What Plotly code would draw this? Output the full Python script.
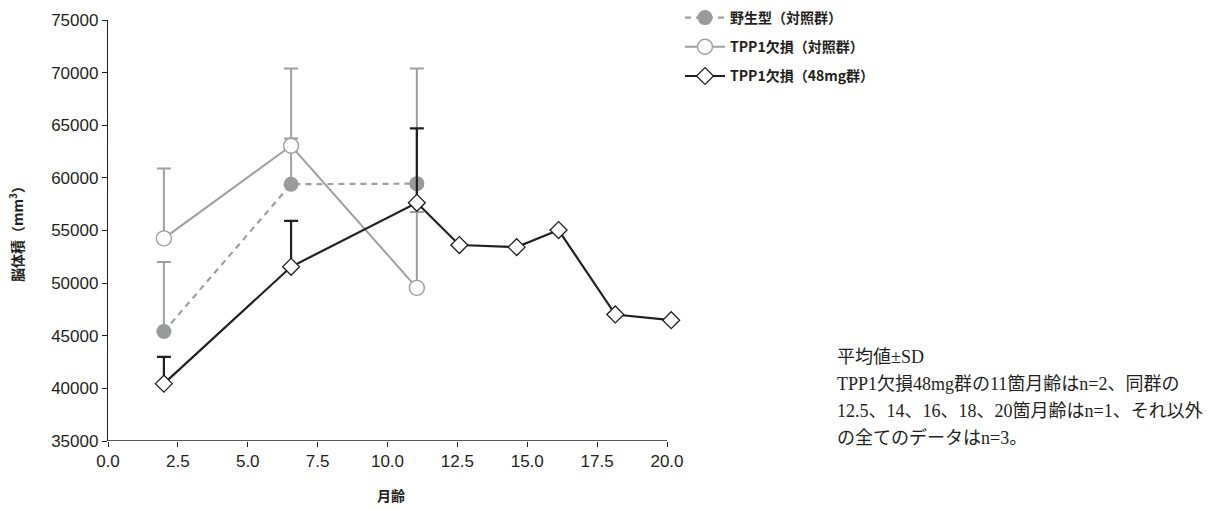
import plotly.graph_objects as go

# ---- data ----
age_wt = [2.0, 6.55, 11.05]
vol_wt = [45400, 59400, 59450]
sd_wt_up = [6600, 4350, 0]
sd_wt_down = [0, 0, 2700]

age_ctl = [2.0, 6.55, 11.05]
vol_ctl = [54250, 63050, 49550]
sd_ctl_up = [6650, 7350, 20850]

age_48 = [2.0, 6.55, 11.05, 12.57, 14.62, 16.12, 18.15, 20.15]
vol_48 = [40450, 51550, 57630, 53620, 53420, 55040, 47020, 46480]
sd_48_up = [2550, 4370, 7070, 0, 0, 0, 0, 0]

names = ["野生型（対照群）", "TPP1欠損（対照群）", "TPP1欠損（48mg群）"]
x_ticks = [0, 2.5, 5, 7.5, 10, 12.5, 15, 17.5, 20]
y_ticks = [35000, 40000, 45000, 50000, 55000, 60000, 65000, 70000, 75000]
note_lines = [
    "平均値±SD",
    "TPP1欠損48mg群の11箇月齢はn=2、同群の",
    "12.5、14、16、18、20箇月齢はn=1、それ以外",
    "の全てのデータはn=3。",
]

# ---- layout constants ----
W, H = 1222, 510
X_MAX = 20.25
PX_PER_X = 27.96
L, T, B = 108, 20, 69
plot_w = round(X_MAX * PX_PER_X)
R = W - L - plot_w
plot_h = H - T - B

DARK = "#231f20"
GRAY = "#9fa0a2"
GRAY_FILL = "#999a9c"
SANS = "Liberation Sans, Arial, Noto Sans CJK JP, sans-serif"
CJK = "Noto Sans CJK JP, Liberation Sans, sans-serif"
SERIF = "Liberation Serif, Noto Sans CJK JP, serif"

fig = go.Figure()

fig.add_trace(go.Scatter(
    x=age_wt, y=vol_wt, name="<b>" + names[0] + "</b>", mode="lines+markers",
    legendgroup="a",
    line=dict(color=GRAY, width=2.2, dash="6px,5px"),
    marker=dict(symbol="circle", size=15, color=GRAY_FILL, line=dict(width=0)),
    error_y=dict(type="data", symmetric=False, array=sd_wt_up, arrayminus=sd_wt_down,
                 color=GRAY, thickness=2, width=7),
    cliponaxis=False,
))
fig.add_trace(go.Scatter(
    x=age_ctl, y=vol_ctl, name="<b>" + names[1] + "</b>", mode="lines+markers",
    legendgroup="b",
    line=dict(color=GRAY, width=2),
    marker=dict(symbol="circle", size=15, color="white", line=dict(width=1.4, color=GRAY)),
    error_y=dict(type="data", symmetric=False, array=sd_ctl_up,
                 arrayminus=[0] * len(sd_ctl_up), color=GRAY, thickness=2, width=7),
    cliponaxis=False,
))
fig.add_trace(go.Scatter(
    x=age_48, y=vol_48, name="<b>" + names[2] + "</b>", mode="lines+markers",
    legendgroup="c",
    line=dict(color=DARK, width=2.2),
    marker=dict(symbol="diamond", size=13, color="white", line=dict(width=1.3, color=DARK)),
    error_y=dict(type="data", symmetric=False, array=sd_48_up,
                 arrayminus=[0] * len(sd_48_up), color=DARK, thickness=2.2, width=7),
    cliponaxis=False,
))

axis_common = dict(
    ticks="outside", ticklen=5, tickwidth=1.3, tickcolor=DARK,
    showgrid=False, zeroline=False,
    tickfont=dict(family=SANS, size=17, color=DARK),
)

fig.update_layout(
    width=W, height=H, autosize=False,
    margin=dict(l=L, r=R, t=T, b=B, pad=0, autoexpand=False),
    paper_bgcolor="white", plot_bgcolor="white",
    xaxis=dict(range=[0, X_MAX], tickvals=x_ticks,
               ticktext=[f"{v:.1f}" for v in x_ticks], showline=False,
               title=dict(text="<b>月齢</b>", font=dict(family=CJK, size=14, color=DARK), standoff=20),
               **axis_common),
    yaxis=dict(range=[35000, 75000], tickvals=y_ticks,
               ticktext=[str(v) for v in y_ticks],
               showline=True, linecolor=DARK, linewidth=1.3,
               title=dict(text="<b>脳体積（mm<sup>3</sup>）</b>", font=dict(family=CJK, size=14, color=DARK), standoff=24),
               **axis_common),
    legend=dict(
        xref="container", yref="container",
        x=680 / W, y=1 - 2 / H, xanchor="left", yanchor="top",
        font=dict(family=CJK, size=14, color=DARK),
        tracegroupgap=8, itemwidth=40, bgcolor="rgba(0,0,0,0)",
    ),
    showlegend=True,
)

# x-axis baseline ending at the last tick (20.0)
fig.add_shape(type="line", xref="x", yref="y", x0=0, x1=x_ticks[-1],
              y0=y_ticks[0], y1=y_ticks[0], line=dict(color=DARK, width=1.3), layer="above")

for i, t in enumerate(note_lines):
    ypx = 357 + i * 27
    fig.add_annotation(
        text=t, xref="paper", yref="paper",
        x=(835 - L) / plot_w, y=(H - B - ypx) / plot_h,
        xanchor="left", yanchor="middle", showarrow=False,
        font=dict(family=SERIF, size=18, color=DARK),
    )

fig.write_html("out.html")
